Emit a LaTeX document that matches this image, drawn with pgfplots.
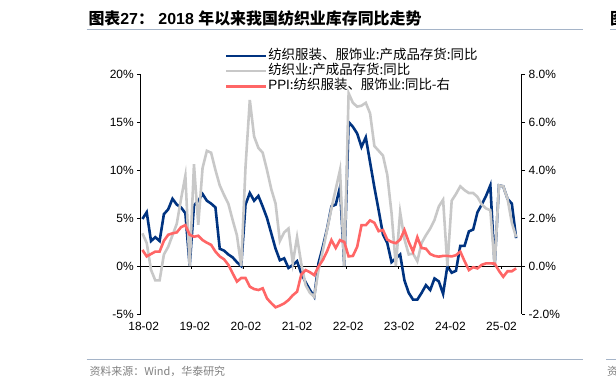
\documentclass[border=0pt]{standalone}
\usepackage{pgfplots}
\pgfplotsset{compat=1.18}
\usepackage{pgfplotstable}
\usepackage{fontspec}
\setmainfont{Liberation Sans}
\newfontfamily\cjk{Noto Sans CJK SC}
\definecolor{cblue}{RGB}{0,51,128}
\definecolor{cgray}{RGB}{200,200,200}
\definecolor{cred}{RGB}{255,102,102}
\definecolor{crule}{RGB}{165,180,200}
\definecolor{csrc}{RGB}{128,128,128}

\pgfplotstableread{
m b g r
0 4.9 3.4 0.67
1 5.6 2.4 0.4
2 2.6 -0.4 0.5
3 3.0 -1.5 0.6
4 2.6 -1.5 0.6
5 5.4 1.2 1.05
6 5.9 2.0 1.3
7 7.0 3.2 1.36
8 6.4 4.4 1.4
9 6.1 7.0 1.62
10 5.5 9.4 1.7
11 0 0 1.3
12 6.3 10.6 1.22
13 6.8 4.3 1.26
14 7.5 10.2 1.08
15 6.8 12.0 0.97
16 6.5 11.8 0.88
17 6.1 10.0 0.6
18 1.8 8.4 0.4
19 1.6 7.4 0.28
20 1.2 6.5 0.05
21 0.9 4.8 -0.3
22 0.4 3.2 -0.65
23 0 0 -0.5
24 6.4 10.3 -0.5
25 7.6 17.3 -0.86
26 6.8 13.5 -0.96
27 7.3 12.3 -1.0
28 6.2 11.8 -0.93
29 5.0 10.0 -1.35
30 3.4 8.0 -1.55
31 1.8 6.5 -1.72
32 0.6 2.6 -1.65
33 0.8 3.5 -1.56
34 -0.2 3.9 -1.42
35 0.1 0.3 -1.22
36 0.5 3.0 -1.07
37 -0.8 0.2 -0.35
38 -1.7 -2.0 -0.17
39 -2.5 -2.8 -0.26
40 -3.2 -3.2 -0.38
41 0.3 -0.4 -0.02
42 2.0 1.6 0.25
43 3.9 3.8 0.62
44 6.2 6.0 1.08
45 6.4 8.0 0.75
46 8.2 10.0 1.08
47 0 0 1.0
48 15.0 18.0 0.4
49 14.5 17.0 0.42
50 13.8 16.6 0.8
51 12.4 16.7 1.7
52 13.4 17.0 1.7
53 10.8 15.9 1.9
54 8.2 12.5 1.8
55 5.8 12.0 1.45
56 3.3 11.5 1.5
57 2.4 9.5 1.1
58 0.4 5.5 1.0
59 0.8 0 0.95
60 1.2 5.6 1.1
61 -1.5 2.8 1.5
62 -2.8 1.2 1.0
63 -3.5 1.3 0.6
64 -3.5 0.5 1.2
65 -2.8 2.4 0.75
66 -2.0 3.2 0.72
67 -2.5 3.9 0.5
68 -1.3 4.8 0.42
69 -1.6 6.2 0.39
70 -2.9 6.9 0.42
71 0 0 0.42
72 -0.7 6.8 0.4
73 -0.5 7.5 0.45
74 2.1 8.3 0.6
75 2.1 7.9 0.2
76 3.6 7.6 -0.17
77 3.8 7.6 -0.05
78 5.6 7.2 -0.1
79 6.4 6.4 0.05
80 7.3 6.0 0.11
81 8.4 5.8 0.11
82 0 0 0.1
83 8.4 8.4 -0.2
84 8.3 8.3 -0.45
85 7.0 7.0 -0.22
86 6.5 4.5 -0.22
87 2.9 3.0 -0.1
}\data

\begin{document}
\begin{tikzpicture}[x=1bp,y=1bp]
\useasboundingbox (0bp,0bp) rectangle (616bp,389bp);
% title
\node[anchor=base west, inner sep=0, font=\bfseries\fontsize{16}{18}\selectfont] at (88.3bp,364bp)
  {{\cjk\bfseries 图表}27{\cjk\bfseries ：}\ 2018 {\cjk\bfseries 年以来我国纺织业库存同比走势}};
\node[anchor=base west, inner sep=0, font=\cjk\bfseries\fontsize{16}{18}\selectfont] at (610bp,364bp) {图};
\draw[crule, line width=1bp] (86.7bp,359.7bp) -- (582.7bp,359.7bp);
\draw[crule, line width=1bp] (610bp,359.7bp) -- (620bp,359.7bp);
\draw[crule, line width=1bp] (86.7bp,29bp) -- (582.7bp,29bp);
\draw[crule, line width=1bp] (606bp,29bp) -- (620bp,29bp);
\node[anchor=base west, inner sep=0, text=csrc, font=\cjk\fontsize{11}{13}\selectfont] at (89.3bp,14bp) {资料来源：Wind，华泰研究};
\node[anchor=base west, inner sep=0, text=csrc, font=\cjk\fontsize{11}{13}\selectfont] at (607bp,14bp) {资};

\begin{axis}[
  at={(140.7bp,75bp)}, anchor=south west, scale only axis,
  width=381bp, height=240bp,
  xmin=-0.4, xmax=88.3, ymin=-5, ymax=20,
  axis y line*=left, axis x line*=bottom,
  x axis line style={draw=none},
  xtick={0.3,12.2,24.1,36,47.9,59.8,71.7,83.6},
  xticklabels={18-02,19-02,20-02,21-02,22-02,23-02,24-02,25-02},
  xtick style={draw=none},
  xticklabel style={yshift=-1.5bp},
  ytick={-5,0,5,10,15,20},
  yticklabels={-5\%,0\%,5\%,10\%,15\%,20\%},
  extra y ticks={0}, extra y tick labels={},
  extra y tick style={grid=major, major grid style={black, line width=0.75bp}, major tick length=0pt},
  tick align=outside, major tick length=3.5bp,
  y axis line style={black, line width=0.75bp},
  ytick style={black, line width=0.75bp},
  ticklabel style={font=\fontsize{12}{14}\selectfont},
  clip=false,
  legend style={at={(axis description cs:0.221,1.108)}, anchor=north west,
    draw=none, fill=none, inner sep=0pt, row sep=0bp,
    font=\fontsize{13.5}{15}\selectfont,
    nodes={inner sep=0.6bp, text height=10.5bp, text depth=3.5bp}},
  legend cell align=left,
  legend image code/.code={\draw[#1] (0bp,0bp) -- (40bp,0bp);},
]
\addplot[cblue, line width=2.6bp] table[x=m,y=b]{\data};
\addlegendentry{{\cjk 纺织服装、服饰业:产成品存货:同比}}
\addplot[cgray, line width=2.6bp] table[x=m,y=g]{\data};
\addlegendentry{{\cjk 纺织业:产成品存货:同比}}
\addlegendimage{cred, line width=2.6bp}
\addlegendentry{PPI{\cjk :纺织服装、服饰业:同比-右}}
\pgfplotsinvokeforeach{11.5,23.5,35.5,47.5,59.5,71.5,83.5}{
  \draw[black, line width=0.75bp] (axis cs:#1,0) -- ++(0bp,-3.5bp);
}
\end{axis}

\begin{axis}[
  at={(140.7bp,75bp)}, anchor=south west, scale only axis,
  width=381bp, height=240bp,
  xmin=-0.4, xmax=88.3, ymin=-2, ymax=8,
  axis y line*=right, axis x line=none,
  y axis line style={black, line width=0.75bp},
  ytick={-2,0,2,4,6,8},
  yticklabels={-2.0\%,0.0\%,2.0\%,4.0\%,6.0\%,8.0\%},
  tick align=outside, major tick length=3.5bp,
  ytick style={black, line width=0.75bp},
  ticklabel style={font=\fontsize{12}{14}\selectfont},
]
\addplot[cred, line width=2.6bp] table[x=m,y=r]{\data};
\end{axis}
\end{tikzpicture}
\end{document}
